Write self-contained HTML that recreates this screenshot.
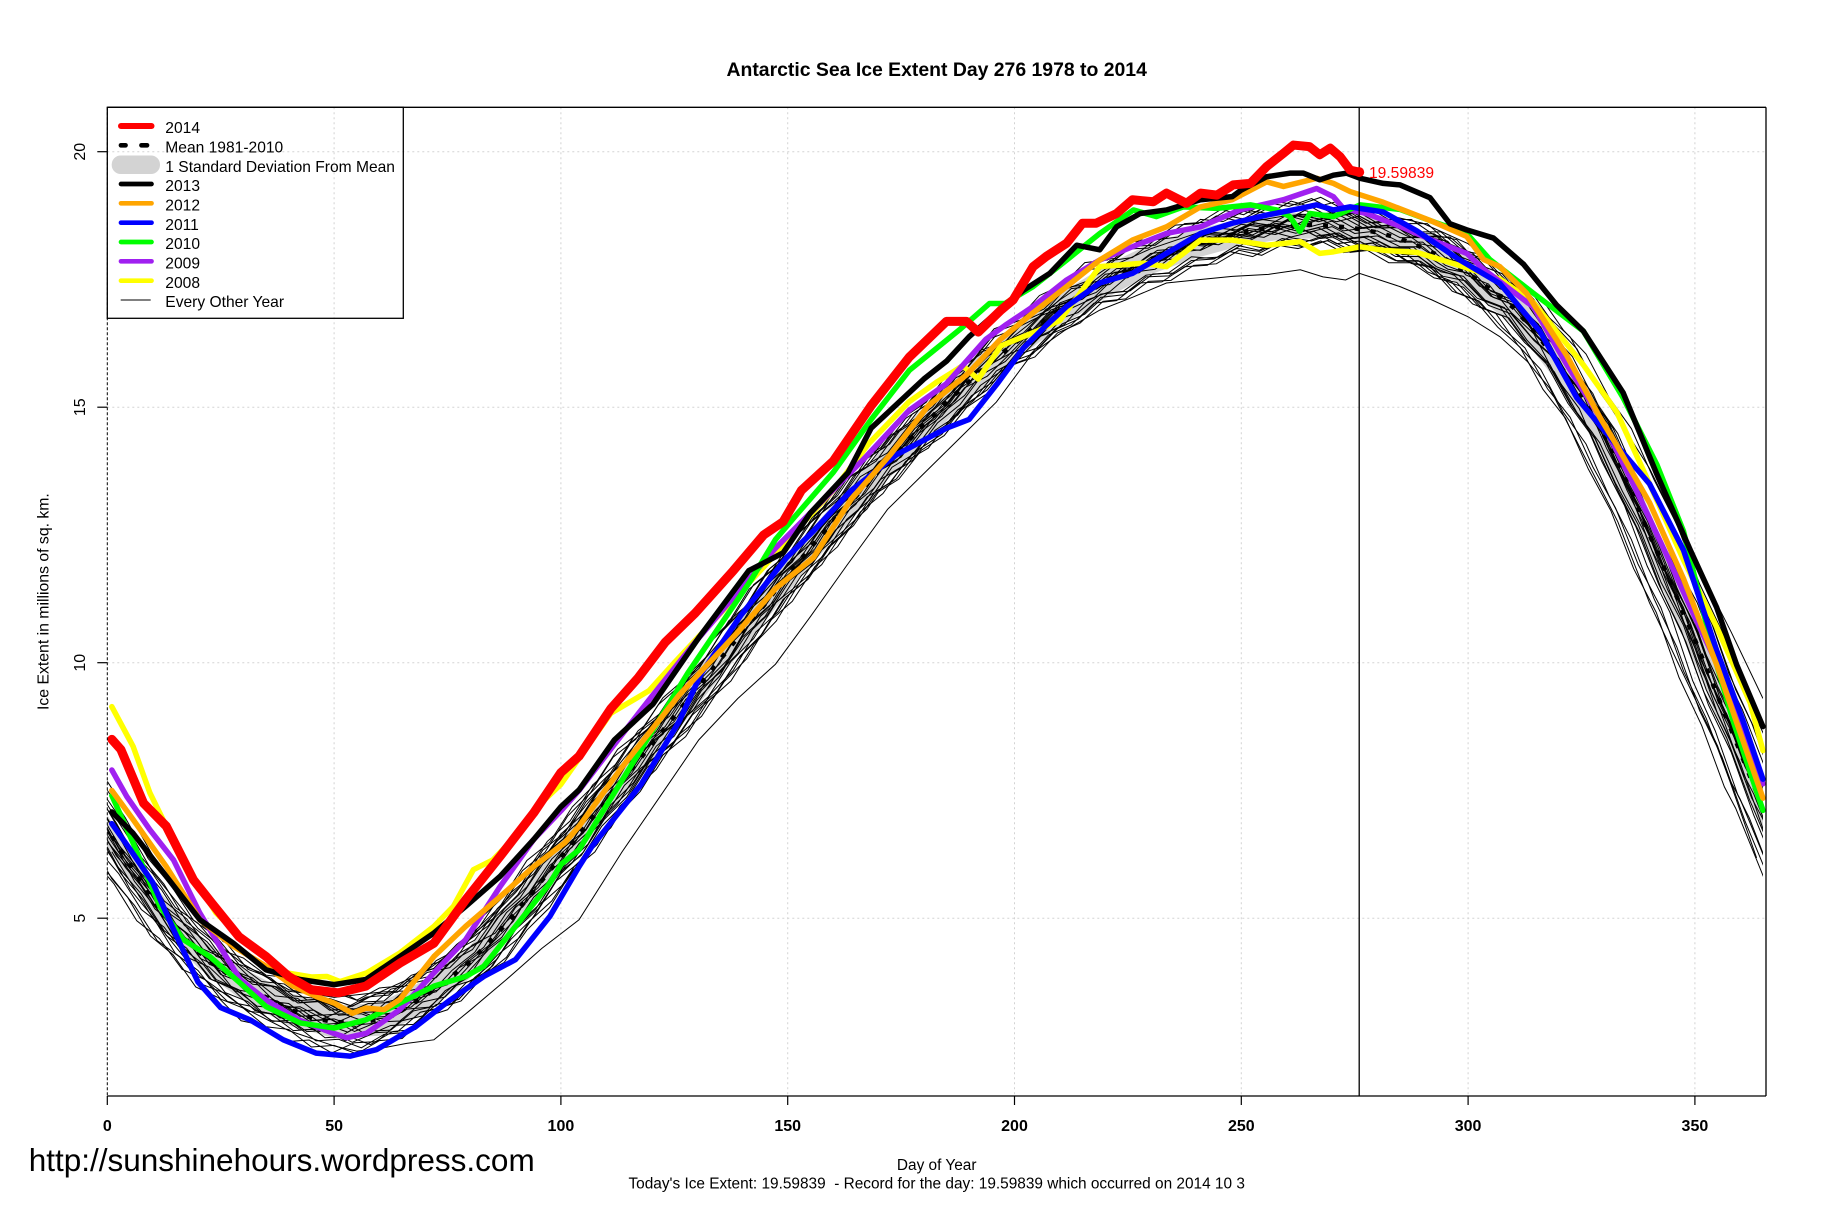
<!DOCTYPE html>
<html>
<head>
<meta charset="utf-8">
<style>
html,body{margin:0;padding:0;background:#ffffff;}
svg{display:block;}
text{font-family:"Liberation Sans",Arial,sans-serif;}
</style>
</head>
<body>
<svg width="1836" height="1223" viewBox="0 0 1836 1223" xmlns="http://www.w3.org/2000/svg">
<defs>
  <clipPath id="pc"><rect x="107.3" y="107.3" width="1655.7" height="988.7"/></clipPath>
  <polyline id="tA" fill="none" vector-effect="non-scaling-stroke" points="-8,7.85 0,6.76 5,5.97 10,5.45 15,4.76 20,4.44 25,3.9 30,3.73 35,3.38 40,3.33 45,3.0 50,3.03 55,2.87 60,3.12 65,3.16 70,3.56 75,3.7 80,4.18 85,4.53 90,5.21 95,5.6 100,6.26 105,6.67 110,7.4 115,7.81 120,8.49 125,8.85 130,9.53 135,9.98 140,10.71 145,11.1 150,11.78 155,12.17 160,12.85 165,13.21 170,13.84 175,14.1 180,14.68 185,15.03 190,15.61 195,15.85 200,16.31 205,16.52 210,17.0 215,17.16 220,17.54 225,17.6 230,17.93 235,17.98 240,18.31 245,18.27 250,18.48 255,18.42 260,18.65 265,18.53 270,18.64 275,18.4 280,18.45 285,18.23 290,18.23 295,17.85 300,17.68 305,17.22 310,17.05 315,16.41 320,15.94 325,15.1 330,14.48 335,13.48 340,12.61 345,11.45 350,10.51 355,9.27 360,8.35 365,7.11 373,5.4"/>
  <polyline id="tB" fill="none" vector-effect="non-scaling-stroke" points="-8,7.7 0,6.62 2.5,6.29 7.5,5.77 12.5,5.05 17.5,4.7 22.5,4.1 27.5,3.9 32.5,3.47 37.5,3.38 42.5,3.08 47.5,3.11 52.5,2.87 57.5,3.06 62.5,3.08 67.5,3.46 72.5,3.56 77.5,4.03 82.5,4.27 87.5,4.89 92.5,5.32 97.5,6.03 102.5,6.39 107.5,7.1 112.5,7.55 117.5,8.25 122.5,8.6 127.5,9.28 132.5,9.67 137.5,10.37 142.5,10.82 147.5,11.54 152.5,11.9 157.5,12.57 162.5,12.97 167.5,13.62 172.5,13.9 177.5,14.48 182.5,14.77 187.5,15.34 192.5,15.64 197.5,16.18 202.5,16.34 207.5,16.82 212.5,17.02 217.5,17.45 222.5,17.5 227.5,17.85 232.5,17.87 237.5,18.17 242.5,18.2 247.5,18.47 252.5,18.37 257.5,18.6 262.5,18.53 267.5,18.68 272.5,18.45 277.5,18.51 282.5,18.25 287.5,18.25 292.5,17.95 297.5,17.86 302.5,17.37 307.5,17.2 312.5,16.67 317.5,16.27 322.5,15.45 327.5,14.88 332.5,13.89 337.5,13.07 342.5,11.94 347.5,11.08 352.5,9.81 357.5,8.87 362.5,7.67 365,7.25 373,5.5"/>
</defs>

<rect x="0" y="0" width="1836" height="1223" fill="#ffffff"/>

<!-- title -->
<text x="936.7" y="76" font-size="19.4" font-weight="bold" text-anchor="middle" fill="#000">Antarctic Sea Ice Extent Day 276 1978 to 2014</text>

<!-- grid lines -->
<g stroke="#D3D3D3" stroke-width="1" stroke-dasharray="2 3" fill="none">
  <line x1="334.1" y1="107.3" x2="334.1" y2="1096"/>
  <line x1="560.9" y1="107.3" x2="560.9" y2="1096"/>
  <line x1="787.7" y1="107.3" x2="787.7" y2="1096"/>
  <line x1="1014.5" y1="107.3" x2="1014.5" y2="1096"/>
  <line x1="1241.3" y1="107.3" x2="1241.3" y2="1096"/>
  <line x1="1468.1" y1="107.3" x2="1468.1" y2="1096"/>
  <line x1="1694.9" y1="107.3" x2="1694.9" y2="1096"/>
  <line x1="107.3" y1="151.7" x2="1766" y2="151.7"/>
  <line x1="107.3" y1="407.2" x2="1766" y2="407.2"/>
  <line x1="107.3" y1="662.7" x2="1766" y2="662.7"/>
  <line x1="107.3" y1="918.2" x2="1766" y2="918.2"/>
</g>

<!-- data -->
<g clip-path="url(#pc)">
 <g transform="matrix(4.536 0 0 -51.1 107.3 1173.7)">
  <polygon fill="#D3D3D3" stroke="none" points="0,7.02 10,5.67 20,4.67 30,4.02 40,3.54 50,3.29 60,3.34 70,3.79 80,4.47 90,5.42 100,6.55 110,7.65 120,8.75 130,9.85 140,10.95 150,12.07 160,13.1 170,14.1 180,15.0 190,15.85 200,16.6 210,17.22 220,17.77 230,18.2 240,18.48 250,18.68 260,18.8 270,18.8 280,18.7 290,18.42 300,17.95 310,17.3 320,16.25 330,14.9 340,12.97 350,10.92 360,8.72 365,7.6 365,6.7 360,7.8 350,9.98 340,12.03 330,14.0 320,15.45 310,16.6 300,17.3 290,17.82 280,18.14 270,18.3 260,18.3 250,18.16 240,17.92 230,17.6 220,17.13 210,16.58 200,15.9 190,15.15 180,14.3 170,13.4 160,12.4 150,11.37 140,10.25 130,9.15 120,8.05 110,6.95 100,5.85 90,4.78 80,3.83 70,3.15 60,2.7 50,2.65 40,2.9 30,3.38 20,4.03 10,5.03 0,6.38"/>
  <g stroke="#000" stroke-width="1" fill="none">
   <use href="#tA" transform="matrix(1 0 0 1 0 0)"/>
   <use href="#tA" transform="matrix(1 0 0 1 2 0.1)"/>
   <use href="#tA" transform="matrix(1 0 0 1 -2 -0.1)"/>
   <use href="#tA" transform="matrix(1 0 0 1.03 3 -0.43)"/>
   <use href="#tA" transform="matrix(1 0 0 0.97 -3 0.43)"/>
   <use href="#tA" transform="matrix(1 0 0 1.05 1 -0.55)"/>
   <use href="#tA" transform="matrix(1 0 0 0.95 -1 0.55)"/>
   <use href="#tA" transform="matrix(1 0 0 1 4 0.2)"/>
   <use href="#tA" transform="matrix(1 0 0 1 -4 -0.2)"/>
   <use href="#tA" transform="matrix(1 0 0 1.04 0 -0.64)"/>
   <use href="#tA" transform="matrix(1 0 0 0.96 0 0.64)"/>
   <use href="#tA" transform="matrix(1 0 0 1 6 0.1)"/>
   <use href="#tB" transform="matrix(1 0 0 1 0 0)"/>
   <use href="#tB" transform="matrix(1 0 0 0.98 2 -0.03)"/>
   <use href="#tB" transform="matrix(1 0 0 1.02 -2 0.03)"/>
   <use href="#tB" transform="matrix(1 0 0 1.02 5 -0.22)"/>
   <use href="#tB" transform="matrix(1 0 0 0.98 -5 0.22)"/>
   <use href="#tB" transform="matrix(1 0 0 1 1.5 -0.3)"/>
   <use href="#tB" transform="matrix(1 0 0 1 -1.5 0.3)"/>
   <use href="#tB" transform="matrix(1 0 0 0.95 3 0.65)"/>
   <use href="#tB" transform="matrix(1 0 0 1.05 -3 -0.65)"/>
   <use href="#tB" transform="matrix(1 0 0 1.01 0 0.24)"/>
   <use href="#tB" transform="matrix(1 0 0 0.99 0 -0.24)"/>
   <use href="#tB" transform="matrix(1 0 0 1 -6 -0.1)"/>
   <polyline vector-effect="non-scaling-stroke" points="1,6.3 10,5.0 20,3.9 30,3.25 40,2.8 50,2.5 55,2.4 60,2.45 66,2.55 72,2.62 80,3.2 88,3.8 95.8,4.41 104,4.97 113.5,6.3 122,7.4 130.4,8.49 139,9.3 147.3,9.97 155,10.9 163,11.9 172,13.0 180,13.7 188,14.4 196,15.1 204,16.06 211,16.5 218.8,16.9 226,17.15 233.5,17.43 241,17.5 248,17.56 256,17.6 263,17.69 268,17.55 273,17.49 276,17.62 285,17.36 292,17.1 300,16.77 307,16.38 313,15.9 318,15.37 325,14.15 333,12.76 340,11.17 347,9.86 355,8.37 363.6,6.18"/>
   <polyline vector-effect="non-scaling-stroke" points="1,7.3 10,5.9 20,4.8 30,4.1 40,3.6 50,3.45 60,3.55 70,3.95 80,4.6 90,5.5 100,6.6 110,7.7 120,8.8 130,9.9 140,10.9 150,11.9 160,12.9 170,13.9 180,14.8 190,15.6 200,16.4 210,17.1 220,17.7 230,18.1 240,18.4 250,18.6 260,18.75 270,18.8 280,18.8 290,18.6 300,18.2 310,17.5 320,16.5 330,15.2 340,13.8 350,12.0 358,10.6 365,9.3"/>
  </g>
  <polyline vector-effect="non-scaling-stroke" fill="none" stroke="#000" stroke-width="4.5" stroke-dasharray="5 11" points="1,6.6 5,6.05 10,5.35 15,4.8 20,4.35 25,4 30,3.7 35,3.45 40,3.22 45,3.05 50,2.97 55,2.95 60,3.02 65,3.2 70,3.47 75,3.8 80,4.15 85,4.6 90,5.1 95,5.65 100,6.2 105,6.75 110,7.3 115,7.85 120,8.4 125,8.95 130,9.5 135,10.05 140,10.6 145,11.15 150,11.72 155,12.25 160,12.75 165,13.25 170,13.75 175,14.2 180,14.65 185,15.1 190,15.5 195,15.9 200,16.25 205,16.6 210,16.9 215,17.2 220,17.45 225,17.7 230,17.9 235,18.05 240,18.2 245,18.32 250,18.42 255,18.5 260,18.55 265,18.57 270,18.55 275,18.5 280,18.42 285,18.3 290,18.12 295,17.9 300,17.62 305,17.3 310,16.95 315,16.45 320,15.85 325,15.2 330,14.45 335,13.55 340,12.5 345,11.5 350,10.45 355,9.35 360,8.25 365,7.15"/>
 </g>
</g>

<g transform="matrix(4.536 0 0 -51.1 107.3 1173.7)" fill="none" stroke-linejoin="round" stroke-linecap="round">
  <!-- 2008 yellow -->
  <polyline vector-effect="non-scaling-stroke" stroke="#FFFF00" stroke-width="5.5" points="1,9.14 5.7,8.36 9.4,7.45 13,6.8 19,5.8 24,5.1 31.5,4.45 39.5,3.93 45,3.85 48.4,3.86 51.3,3.76 57.2,3.93 64.5,4.32 72,4.84 76.3,5.23 80.7,5.95 85,6.14 90,6.6 95,7.2 100,7.62 111,9.01 119.4,9.45 125,10.0 132.9,10.75 145,11.9 152,12.6 160,13.37 168,14.3 176.8,15.11 183,15.5 188.6,15.81 192,15.55 197,16.2 205.5,16.51 210,16.7 218.8,17.75 228.4,17.82 233.5,17.75 241,18.27 248,18.27 255.6,18.17 263,18.24 267.3,18.01 270.3,18.04 276.2,18.14 281.3,18.07 288.7,18.03 297.5,17.79 307,17.51 314.4,17.05 325.4,15.83 332.8,14.9 340,13.5 347.5,12.01 354.8,10.7 362.2,9.21 365,8.28"/>
  <!-- 2009 purple -->
  <polyline vector-effect="non-scaling-stroke" stroke="#A020F0" stroke-width="5.5" points="1,7.9 4.3,7.38 9.4,6.73 14.6,6.14 20.4,5.1 24.8,4.45 29.3,3.8 35,3.4 42.5,3.0 49.8,2.75 52.8,2.66 57.2,2.75 64.5,3.21 72,3.93 79,4.58 86.6,5.62 94,6.54 100,7.1 104,7.5 111,8.31 119.4,9.27 129.6,10.4 136.3,11.1 147.3,12.24 158,13.2 166.7,13.98 176.8,14.94 185,15.46 193.7,16.33 197.9,16.6 204.1,16.97 211.5,17.49 218.8,17.88 226,18.14 233.5,18.4 241,18.53 249.7,18.86 259.3,19.06 266.6,19.28 270.3,19.12 272.5,18.89 277.6,18.79 285,18.54 292.3,18.26 299.7,18.01 303.4,17.7 314.4,16.96 321.7,15.84 329,14.81 336.4,13.5 343.8,12.1 351,10.7 358.5,9.31 365,7.63"/>
  <!-- 2010 green -->
  <polyline vector-effect="non-scaling-stroke" stroke="#00FF00" stroke-width="5.5" points="1,7.4 5.7,6.47 11.6,5.23 16.8,4.58 22.6,4.25 29.3,3.73 35,3.27 42.5,2.95 50,2.85 57,3.01 64.5,3.34 72,3.67 79,3.86 83,4.06 90,4.84 97.6,5.69 100,6.05 104,6.34 113.5,7.7 128,9.8 142,11.63 147.3,12.41 151.5,12.85 160,13.72 168.4,14.76 176.8,15.72 187.8,16.51 194.5,17.03 197.9,17.03 204.1,17.36 211.5,17.88 218.8,18.4 226.2,18.86 231.3,18.73 237.2,18.92 244.6,18.89 252,18.96 257.8,18.86 260.7,18.73 262.9,18.44 265.1,18.79 270.3,18.73 276.2,18.96 285,18.87 292.3,18.63 299.7,18.4 304.8,17.89 314.4,17.23 325.4,16.49 334.2,15.18 341.6,13.88 347.5,12.57 351.1,11.26 354.8,9.96 358.5,8.84 365,7.11"/>
  <!-- 2011 blue -->
  <polyline vector-effect="non-scaling-stroke" stroke="#0000FF" stroke-width="5.5" points="1,6.85 5,6.35 10,5.7 15,4.7 20,3.75 25,3.25 31.5,3.01 38.8,2.62 46,2.36 53.5,2.3 59.4,2.43 68,2.88 75.6,3.4 83,3.86 90,4.19 97.6,5.04 104,6.01 106.8,6.4 117.7,7.62 126,8.84 131,9.8 139.7,10.93 149.8,12.06 155.7,12.58 164,13.37 174,14.07 185,14.59 190,14.76 196.2,15.46 202,16.16 207,16.6 211.5,16.97 218.8,17.43 226,17.62 233.5,18.01 241,18.4 248,18.6 255.6,18.76 263,18.89 266.6,18.96 270.3,18.86 274,18.92 281.3,18.82 288.7,18.45 298,17.89 307,17.42 315.8,16.49 324,15.18 332.8,14.25 340,13.5 347.5,12.2 354.8,10.24 360.7,8.84 365,7.72"/>
  <!-- 2012 orange -->
  <polyline vector-effect="non-scaling-stroke" stroke="#FFA500" stroke-width="5.5" points="1,7.5 5.7,6.93 13,6.01 20.4,4.97 27.8,4.45 35,4.06 41,3.67 46,3.47 50,3.34 54,3.14 57,3.24 61,3.21 64.5,3.41 72,4.25 79,4.84 86.6,5.42 94,6.01 100.9,6.48 104,6.8 113.5,7.96 126,9.36 138.8,10.58 147.3,11.45 155.7,12.06 164,13.2 172.6,14.07 181,15.03 189.5,15.64 196.8,16.32 204,16.84 211.5,17.36 218.8,17.88 226,18.27 233.5,18.53 241,18.92 248,19.06 255.6,19.41 259.3,19.32 266.6,19.48 270.3,19.38 274,19.22 281.3,19.01 292.3,18.63 299.7,18.34 303.4,17.89 307,17.75 312.9,17.23 321.7,16.02 329,14.81 332.8,14.25 340,13.13 347.5,11.64 354.8,9.96 365,7.35"/>
  <!-- 2013 black -->
  <polyline vector-effect="non-scaling-stroke" stroke="#000000" stroke-width="5.5" points="1,7.08 5.7,6.66 13,5.82 20.4,4.97 27.8,4.51 35,3.99 42.5,3.8 50,3.7 57,3.8 64.5,4.25 72,4.71 79,5.23 86.6,5.82 94,6.54 100,7.18 104,7.51 111.8,8.49 120.3,9.19 130.4,10.49 141.4,11.8 149,12.15 155,12.93 163.3,13.72 168.4,14.59 180,15.55 185,15.9 190,16.38 196,16.85 202,17.29 207.8,17.62 213.7,18.17 218.8,18.08 222.5,18.53 227.7,18.79 233.5,18.86 241,19.06 248,19.12 250,19.25 255.6,19.51 260.7,19.58 263.7,19.58 267.3,19.45 270.3,19.54 273.2,19.58 276.2,19.48 281.3,19.38 285,19.35 291.6,19.1 296,18.59 299.7,18.47 305.6,18.31 312.2,17.8 319.5,17.0 325.4,16.49 334.2,15.28 341.6,13.69 349,12.2 354.8,11.08 359.2,9.96 365,8.75"/>
  <!-- 2014 red -->
  <polyline vector-effect="non-scaling-stroke" stroke="#FF0000" stroke-width="9" points="1,8.5 3,8.3 8,7.25 13,6.8 19,5.75 23,5.3 29,4.64 35,4.25 40,3.86 45,3.6 51,3.54 57,3.67 64.5,4.12 72,4.51 79,5.36 86.6,6.21 94,7.06 100,7.85 104,8.17 111,9.1 117,9.7 123,10.4 129.6,10.97 138,11.8 144.7,12.5 149,12.76 153,13.37 160,13.94 168.4,15.03 176.8,15.98 185,16.68 189.4,16.68 192,16.47 197,16.9 199.7,17.1 204.1,17.75 207,17.95 211.5,18.21 215,18.6 218,18.6 222.5,18.79 226,19.06 230.6,19.02 233.5,19.19 237.9,18.99 241,19.19 244.6,19.15 248.2,19.35 252,19.38 255.6,19.71 259.3,19.97 261.5,20.13 265,20.1 267.3,19.94 269.6,20.07 271.8,19.9 274,19.64 276,19.6"/>
</g>

<!-- today marker -->
<line x1="1359.2" y1="107.3" x2="1359.2" y2="1096" stroke="#000" stroke-width="1.3"/>
<circle cx="1359.2" cy="172.1" r="5" fill="#FF0000"/>
<text x="1369" y="178" font-size="15.6" fill="#FF0000">19.59839</text>

<!-- frame (bty="]") -->
<g stroke="#000" fill="none">
  <line x1="107.3" y1="107.3" x2="1766" y2="107.3" stroke-width="1.3"/>
  <line x1="1766" y1="107.3" x2="1766" y2="1096" stroke-width="1.3"/>
  <line x1="107.3" y1="1096" x2="1766" y2="1096" stroke-width="1.3"/>
  <line x1="107.3" y1="107.3" x2="107.3" y2="1096" stroke-width="1" stroke-dasharray="3 2"/>
</g>

<!-- x ticks -->
<g stroke="#000" stroke-width="1.2">
  <line x1="107.3" y1="1096" x2="107.3" y2="1105"/>
  <line x1="334.1" y1="1096" x2="334.1" y2="1105"/>
  <line x1="560.9" y1="1096" x2="560.9" y2="1105"/>
  <line x1="787.7" y1="1096" x2="787.7" y2="1105"/>
  <line x1="1014.5" y1="1096" x2="1014.5" y2="1105"/>
  <line x1="1241.3" y1="1096" x2="1241.3" y2="1105"/>
  <line x1="1468.1" y1="1096" x2="1468.1" y2="1105"/>
  <line x1="1694.9" y1="1096" x2="1694.9" y2="1105"/>
</g>
<g font-size="16" font-weight="bold" text-anchor="middle" fill="#000">
  <text x="107.3" y="1131">0</text>
  <text x="334.1" y="1131">50</text>
  <text x="560.9" y="1131">100</text>
  <text x="787.7" y="1131">150</text>
  <text x="1014.5" y="1131">200</text>
  <text x="1241.3" y="1131">250</text>
  <text x="1468.1" y="1131">300</text>
  <text x="1694.9" y="1131">350</text>
</g>

<!-- y ticks -->
<g stroke="#000" stroke-width="1.2">
  <line x1="97.3" y1="151.7" x2="107.3" y2="151.7"/>
  <line x1="97.3" y1="407.2" x2="107.3" y2="407.2"/>
  <line x1="97.3" y1="662.7" x2="107.3" y2="662.7"/>
  <line x1="97.3" y1="918.2" x2="107.3" y2="918.2"/>
</g>
<g font-size="16" text-anchor="middle" fill="#000">
  <text transform="translate(85,151.7) rotate(-90)">20</text>
  <text transform="translate(85,407.2) rotate(-90)">15</text>
  <text transform="translate(85,662.7) rotate(-90)">10</text>
  <text transform="translate(85,918.2) rotate(-90)">5</text>
</g>

<!-- axis labels -->
<text transform="translate(48.3,601.6) rotate(-90)" font-size="15.8" text-anchor="middle" fill="#000">Ice Extent in millions of sq. km.</text>
<text x="936.7" y="1170" font-size="15.4" text-anchor="middle" fill="#000">Day of Year</text>
<text x="936.7" y="1188.7" font-size="15.4" text-anchor="middle" fill="#000" xml:space="preserve">Today's Ice Extent: 19.59839  - Record for the day: 19.59839 which occurred on 2014 10 3</text>
<text x="28.7" y="1171" font-size="31.5" fill="#000">http://sunshinehours.wordpress.com</text>

<!-- legend -->
<rect x="107.3" y="107.3" width="296" height="211" fill="none" stroke="#000" stroke-width="1.3"/>
<g stroke-linecap="round">
  <line x1="121" y1="126" x2="151.5" y2="126" stroke="#FF0000" stroke-width="6"/>
  <line x1="121" y1="145.3" x2="125.5" y2="145.3" stroke="#000" stroke-width="4.7"/>
  <line x1="141.5" y1="145.3" x2="147" y2="145.3" stroke="#000" stroke-width="4.7"/>
  <rect x="111.7" y="155.5" width="48.3" height="18.5" rx="9" ry="9" fill="#D3D3D3" stroke="none"/>
  <line x1="121" y1="184" x2="151.5" y2="184" stroke="#000000" stroke-width="4.7"/>
  <line x1="121" y1="203.3" x2="151.5" y2="203.3" stroke="#FFA500" stroke-width="4.7"/>
  <line x1="121" y1="222.7" x2="151.5" y2="222.7" stroke="#0000FF" stroke-width="4.7"/>
  <line x1="121" y1="242" x2="151.5" y2="242" stroke="#00FF00" stroke-width="4.7"/>
  <line x1="121" y1="261.3" x2="151.5" y2="261.3" stroke="#A020F0" stroke-width="4.7"/>
  <line x1="121" y1="280.7" x2="151.5" y2="280.7" stroke="#FFFF00" stroke-width="4.7"/>
  <line x1="120.7" y1="300" x2="150.7" y2="300" stroke="#000" stroke-width="1" stroke-linecap="butt"/>
</g>
<g font-size="15.6" fill="#000">
  <text x="165.3" y="133.2">2014</text>
  <text x="165.3" y="152.5">Mean 1981-2010</text>
  <text x="165.3" y="171.8">1 Standard Deviation From Mean</text>
  <text x="165.3" y="191.1">2013</text>
  <text x="165.3" y="210.4">2012</text>
  <text x="165.3" y="229.8">2011</text>
  <text x="165.3" y="249.1">2010</text>
  <text x="165.3" y="268.4">2009</text>
  <text x="165.3" y="287.8">2008</text>
  <text x="165.3" y="307.1">Every Other Year</text>
</g>
</svg>
</body>
</html>
